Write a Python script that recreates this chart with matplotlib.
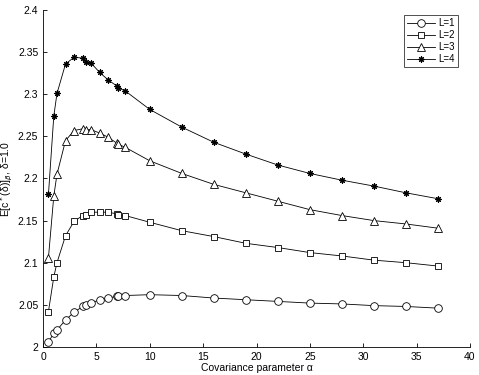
import matplotlib
matplotlib.use('Agg')
import matplotlib.pyplot as plt
from matplotlib.ticker import FormatStrFormatter

plt.rcParams['font.family'] = ['Liberation Sans', 'DejaVu Sans']

alpha = [0.5, 1.0, 1.3, 2.1, 2.9, 3.7, 4.0, 4.5, 5.3, 6.1, 6.9, 7.0, 7.7,
         10, 13, 16, 19, 22, 25, 28, 31, 34, 37]

L1 = [2.006, 2.016, 2.020, 2.032, 2.041, 2.048, 2.050, 2.052, 2.056, 2.058, 2.060, 2.060, 2.061,
      2.062, 2.061, 2.058, 2.056, 2.054, 2.052, 2.051, 2.049, 2.048, 2.046]
L2 = [2.042, 2.083, 2.100, 2.132, 2.149, 2.156, 2.157, 2.160, 2.160, 2.160, 2.158, 2.157, 2.156,
      2.148, 2.138, 2.131, 2.123, 2.118, 2.112, 2.108, 2.103, 2.100, 2.096]
L3 = [2.106, 2.179, 2.205, 2.245, 2.257, 2.259, 2.258, 2.258, 2.254, 2.249, 2.242, 2.241, 2.237,
      2.221, 2.206, 2.193, 2.183, 2.173, 2.163, 2.156, 2.150, 2.146, 2.141]
L4 = [2.181, 2.274, 2.301, 2.336, 2.344, 2.343, 2.338, 2.337, 2.326, 2.317, 2.310, 2.308, 2.304,
      2.282, 2.261, 2.243, 2.229, 2.216, 2.206, 2.198, 2.191, 2.183, 2.176]

labels = ['L=1', 'L=2', 'L=3', 'L=4']

fig = plt.figure(figsize=(4.79, 3.75), dpi=100)
ax = fig.add_axes([0.09, 0.075, 0.891, 0.898])

ax.plot(alpha, L1, '-', color='black', lw=0.6, marker='o', ms=5.5, mfc='white', mec='black', mew=0.6, label=labels[0])
ax.plot(alpha, L2, '-', color='black', lw=0.6, marker='s', ms=4.5, mfc='white', mec='black', mew=0.6, label=labels[1])
ax.plot(alpha, L3, '-', color='black', lw=0.6, marker='^', ms=5.5, mfc='white', mec='black', mew=0.6, label=labels[2])
ax.plot(alpha, L4, '-', color='black', lw=0.6, marker=(8, 2, 0), ms=4.5, mec='black', mew=0.8, label=labels[3])

ax.set_xlim(0, 40)
ax.set_ylim(2.0, 2.4)
ax.set_xticks(range(0, 41, 5))
ax.set_yticks([2.0, 2.05, 2.1, 2.15, 2.2, 2.25, 2.3, 2.35, 2.4])
ax.yaxis.set_major_formatter(FormatStrFormatter('%g'))
ax.tick_params(direction='in', length=3, width=0.6, labelsize=7.5)
ax.spines['top'].set_visible(False)
ax.spines['right'].set_visible(False)
ax.spines['left'].set_linewidth(0.6)
ax.spines['bottom'].set_linewidth(0.6)

ax.set_xlabel('Covariance parameter α', fontsize=7.5, labelpad=1)
ax.set_ylabel('E[c$^*$(δ)]$_β$, δ=1.0', fontsize=7.5, labelpad=2)

leg = ax.legend(loc='upper right', bbox_to_anchor=(0.98, 0.995), fontsize=7, frameon=True, fancybox=False,
                edgecolor='black', handlelength=2.8, borderpad=0.35,
                labelspacing=0.2, handletextpad=0.4, borderaxespad=0.3)
leg.get_frame().set_linewidth(0.6)

plt.savefig('out.png', dpi=100)
